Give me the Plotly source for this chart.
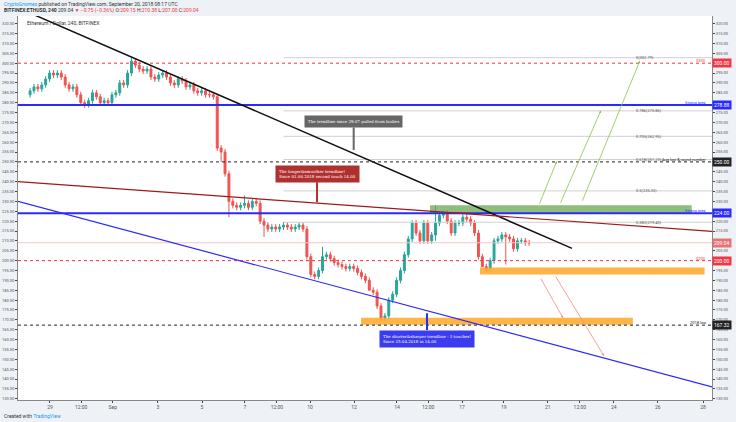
import plotly.graph_objects as go

closes = [286,288,287,289,292,295,294,295,293,289,287,288,284,280,279,281,285,283,280,281,280,284,285,290,289,295,301,
          299,297,296,297,293,292,294,295,293,290,289,292,291,288,289,286,285,286,284,284,283,
          257,255,244,230,228,227,228,229,227,230,229,220,218,216,217,216,217,218,217,216,217,218,216,
          202,193,192,195,202,203,201,199,198,197,196,197,196,194,192,190,185,184,177,171,172,180,183,190,195,203,211,219,214,210,219,210,213,219,223,224,220,214,219,219,222,221,219,214,202,197,196,200,210,211,213,212,211,206,210,210,209,209]
first_open = 284
wick_up = 1.5
wick_dn = 1.5
special_lows = {49: 250, 51: 222, 60: 212, 87: 188, 104: 210, 116: 200, 122: 198}
special_highs = {26: 303, 55: 233, 75: 207, 104: 228}

tick_pos = [5.1, 13.1, 21.2, 32.8, 44.1, 55.1, 63.3, 71.8, 83.1, 94.1, 102.1, 110.8, 121.5, 132.8, 141.0, 149.7, 161.0, 172.6]
tick_txt = ["29", "12:00", "Sep", "3", "5", "7", "12:00", "10", "12", "14", "12:00", "17", "19", "21", "12:00", "24", "26", "28"]

levels = [300.0, 278.88, 250.0, 224.0, 209.04, 200.0, 167.32]
level_colors = ["#f23645", "#2a2aff", "#222222", "#2a2aff", "#e57373", "#f23645", "#222222"]
level_dash = ["dot", "solid", "dot", "solid", None, "dot", "dot"]
level_text = ["$300", "Strong area", "Aug low & round number", "Strong area", "", "$200", "2018 low"]

fib_vals = [302.79, 275.86, 262.95, 251.23, 235.33, 219.43]
fib_text = ["0(302.79)", "0.786(275.86)", "0.705(262.95)", "0.618(251.23)", "0.5(235.33)", "0.382(219.43)"]

opens = [first_open] + closes[:-1]
idx = list(range(len(closes)))
highs = [special_highs.get(i, max(o, c) + wick_up) for i, (o, c) in enumerate(zip(opens, closes))]
lows = [special_lows.get(i, min(o, c) - wick_dn) for i, (o, c) in enumerate(zip(opens, closes))]

fig = go.Figure()
fig.add_trace(go.Candlestick(x=idx, open=opens, high=highs, low=lows, close=closes,
    increasing=dict(line=dict(color="#26a69a", width=1), fillcolor="#26a69a"),
    decreasing=dict(line=dict(color="#ef5350", width=1), fillcolor="#ef5350"),
    whiskerwidth=0, showlegend=False, hoverinfo="skip"))

XL, XR = -3.1, 174.9
shapes = []
for v, t in zip(fib_vals, fib_text):
    shapes.append(dict(type="line", x0=65, x1=XR, y0=v, y1=v, line=dict(color="#d0d0d0", width=1)))
    fig.add_annotation(x=155, y=v, text=t, showarrow=False, xanchor="left", font=dict(size=4, color="#555"))
shapes.append(dict(type="rect", x0=102.6, x1=169.7, y0=224, y1=228, fillcolor="rgba(106,168,79,0.75)", line=dict(width=0)))
shapes.append(dict(type="rect", x0=115.4, x1=173, y0=193, y1=196.5, fillcolor="rgba(255,167,38,0.85)", line=dict(width=0)))
shapes.append(dict(type="rect", x0=84.9, x1=154.6, y0=167.5, y1=171, fillcolor="rgba(255,167,38,0.85)", line=dict(width=0)))
for v, c, d, t in zip(levels, level_colors, level_dash, level_text):
    if d:
        shapes.append(dict(type="line", x0=XL, x1=XR, y0=v, y1=v, line=dict(color=c, width=2 if d == "solid" else 1, dash=d)))
    else:
        shapes.append(dict(type="line", x0=XL, x1=XR, y0=v, y1=v, line=dict(color="#f5c6c6", width=1)))
    if t:
        fig.add_annotation(x=XR - 1, y=v, text=t, showarrow=False, xanchor="right", yanchor="bottom",
                           font=dict(size=4, color=c), yshift=-2)
    fig.add_annotation(xref="paper", x=1.0, y=v, text="%.2f" % v, showarrow=False, xanchor="left",
                       bgcolor=c, font=dict(size=5, color="white"), borderpad=1)
shapes.append(dict(type="line", x0=0, y0=325.4, x1=139, y1=206.2, line=dict(color="#111", width=1.5)))
shapes.append(dict(type="line", x0=XL, y0=240, x1=XR, y1=214.8, line=dict(color="#a01818", width=1.2)))
shapes.append(dict(type="line", x0=XL, y0=230, x1=XR, y1=136, line=dict(color="#2a2aff", width=1.2)))
for (x0, y0, x1, y1, c) in [(130.5, 228.1, 135.1, 250.4, "#8bc34a"), (135.9, 228.6, 146.4, 276, "#8bc34a"),
                             (141.5, 229.6, 156.4, 301.2, "#8bc34a"), (130.8, 191.6, 136.7, 170.9, "#f28b82"),
                             (134.6, 192.6, 147.2, 151.7, "#f28b82")]:
    fig.add_annotation(x=x1, y=y1, ax=x0, ay=y0, xref="x", yref="y", axref="x", ayref="y", text="",
                       showarrow=True, arrowhead=2, arrowsize=0.6, arrowwidth=0.8, arrowcolor=c)
fig.update_layout(shapes=shapes)

fig.add_annotation(x=83, y=256, ax=83, ay=270.5, axref="x", ayref="y", text="The trendline since 29.07 pulled from bodies",
                   showarrow=True, arrowhead=0, arrowwidth=2, arrowcolor="#666", bgcolor="#666",
                   font=dict(size=4, color="white", family="DejaVu Serif"), borderpad=3)
fig.add_annotation(x=73.6, y=229.6, ax=73.6, ay=244, axref="x", ayref="y",
                   text="The longer&smoother trendline!<br>Since 01.06.2018 second touch 14.00",
                   showarrow=True, arrowhead=0, arrowwidth=2, arrowcolor="#b03030", bgcolor="#b03030", align="left",
                   font=dict(size=4, color="white", family="DejaVu Serif"), borderpad=3)
fig.add_annotation(x=101.8, y=173.3, ax=101.8, ay=160.5, axref="x", ayref="y",
                   text="The shorter&sharper trendline - 3 touches!<br>Since 25.04.2018 in 14.00",
                   showarrow=True, arrowhead=0, arrowwidth=2, arrowcolor="#2a2aff", bgcolor="#3b3bf0", align="left",
                   font=dict(size=4, color="white", family="DejaVu Serif"), borderpad=3)

fig.add_annotation(xref="paper", yref="paper", x=0.01, y=0.995, text="Ethereum / Dollar, 240, BITFINEX",
                   showarrow=False, xanchor="left", yanchor="top", font=dict(size=5, color="#333"))
fig.add_annotation(xref="paper", yref="paper", x=0, y=1, yshift=8, xshift=-15, xanchor="left", yanchor="bottom",
                   text="<span style='color:#2196f3'>CryptoGnomes</span> published on TradingView.com, September 20, 2018 08:17 UTC",
                   showarrow=False, font=dict(size=5, color="#333"), borderpad=0)
fig.add_annotation(xref="paper", yref="paper", x=0, y=1, yshift=1, xshift=-15, xanchor="left", yanchor="bottom",
                   text="<b>BITFINEX:ETHUSD, 240</b> 209.04 <span style='color:#f23645'>▼ −0.75 (−0.36%)</span> O:<span style='color:#f23645'>209.15</span> H:<span style='color:#f23645'>210.38</span> L:<span style='color:#f23645'>207.00</span> C:<span style='color:#f23645'>209.04</span>",
                   showarrow=False, font=dict(size=5, color="#333"), borderpad=0)
fig.add_annotation(xref="paper", yref="paper", x=0, y=0, yshift=-12, xshift=-15, xanchor="left", yanchor="top",
                   text="Created with <span style='color:#2196f3'>TradingView</span>", showarrow=False,
                   font=dict(size=5, color="#333"), borderpad=0)

fig.update_layout(width=736, height=422, margin=dict(l=18, r=24, t=16, b=22, autoexpand=False),
                  paper_bgcolor="#eef2f6", plot_bgcolor="white",
                  font=dict(family="Roboto", size=5, color="#555"),
                  xaxis=dict(range=[XL, XR], rangeslider=dict(visible=False), tickvals=tick_pos, ticktext=tick_txt,
                             showgrid=False, zeroline=False, showline=True, linecolor="#888", ticks="outside", ticklen=2,
                             tickfont=dict(size=5), automargin=False),
                  yaxis=dict(range=[129.4, 323.9], dtick=5, tickformat=".2f", showgrid=False, zeroline=False,
                             showline=True, linecolor="#888", side="left", ticks="outside", ticklen=2,
                             tickfont=dict(size=4), automargin=False),
                  yaxis2=dict(range=[129.4, 323.9], dtick=5, tickformat=".2f", overlaying="y", side="right",
                              showgrid=False, showline=True, linecolor="#888", ticks="outside", ticklen=2,
                              tickfont=dict(size=4), automargin=False))
fig.add_trace(go.Scatter(x=[XL], y=[200], yaxis="y2", mode="markers", marker=dict(opacity=0), showlegend=False, hoverinfo="skip"))
fig.write_html("out.html", config={"displayModeBar": False},
               post_script="document.body.style.margin='0';document.body.style.overflow='hidden';")
